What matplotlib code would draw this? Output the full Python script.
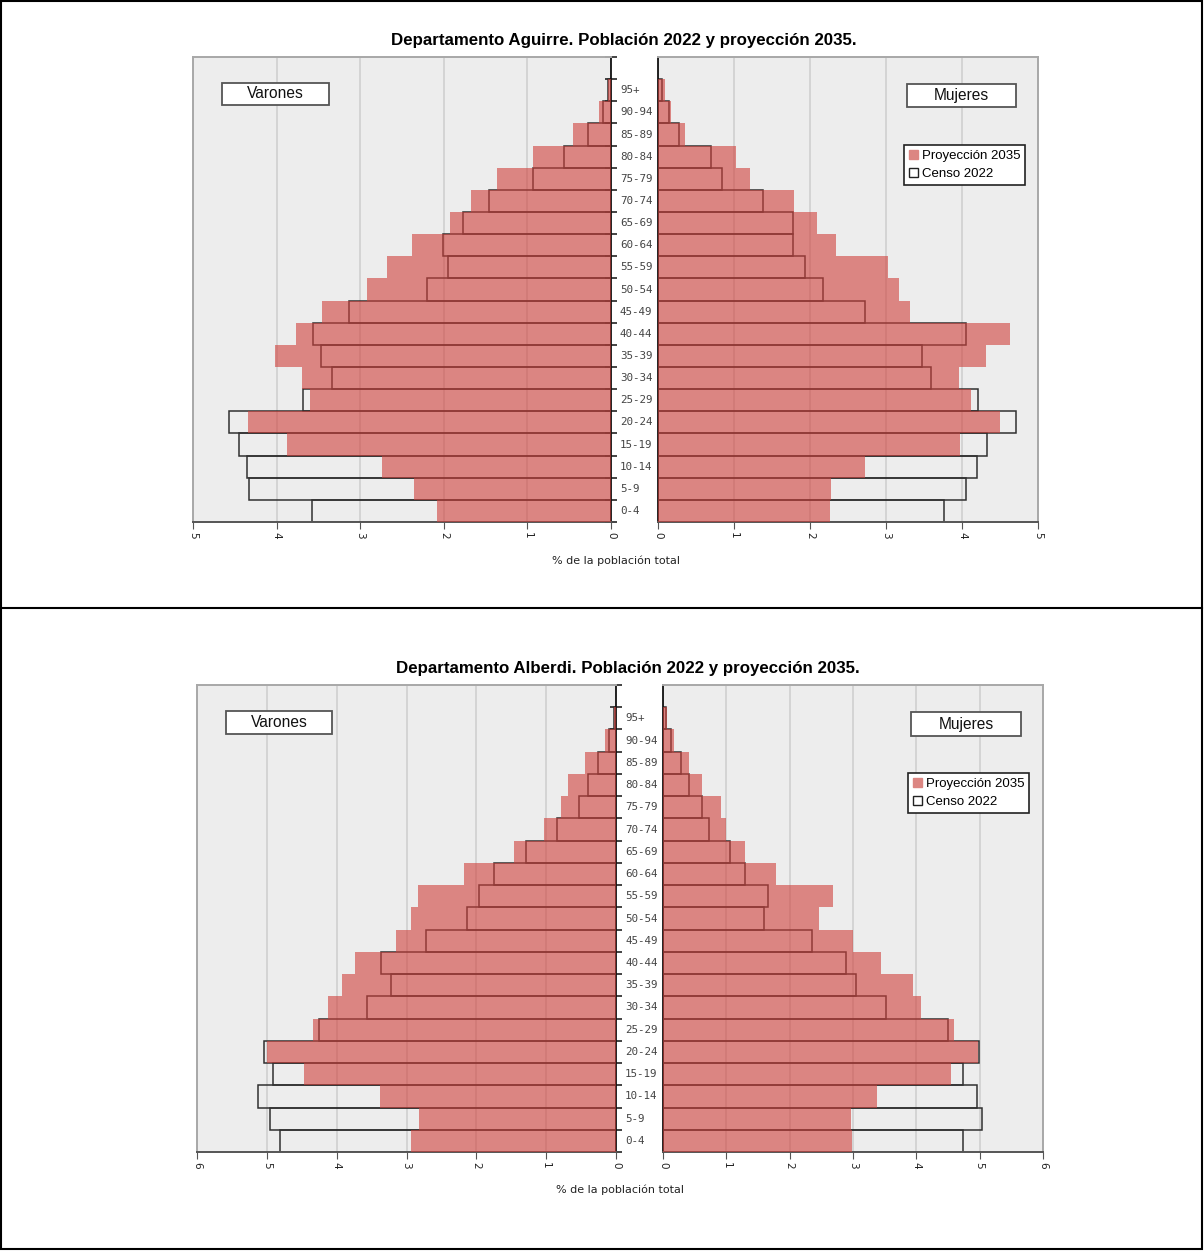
import matplotlib
matplotlib.use("Agg")
import matplotlib.pyplot as plt
from matplotlib.patches import Patch, Rectangle
from matplotlib.lines import Line2D
import matplotlib.transforms as mtransforms

# grupos de edad, de abajo hacia arriba
ages = ['0-4', '5-9', '10-14', '15-19', '20-24', '25-29', '30-34', '35-39', '40-44',
        '45-49', '50-54', '55-59', '60-64', '65-69', '70-74', '75-79', '80-84',
        '85-89', '90-94', '95+']

# Departamento Aguirre (% de la poblacion total)
aguirre_v_2022 = [3.58, 4.33, 4.36, 4.45, 4.57, 3.68, 3.34, 3.47, 3.56, 3.13,
                  2.20, 1.95, 2.01, 1.77, 1.46, 0.93, 0.56, 0.28, 0.09, 0.03]
aguirre_v_2035 = [2.08, 2.36, 2.74, 3.88, 4.34, 3.60, 3.70, 4.02, 3.77, 3.46,
                  2.92, 2.68, 2.38, 1.93, 1.67, 1.36, 0.93, 0.45, 0.14, 0.03]
aguirre_m_2022 = [3.76, 4.05, 4.20, 4.33, 4.71, 4.21, 3.59, 3.47, 4.05, 2.72,
                  2.17, 1.94, 1.78, 1.77, 1.38, 0.84, 0.70, 0.27, 0.15, 0.05]
aguirre_m_2035 = [2.26, 2.28, 2.72, 3.97, 4.50, 4.12, 3.96, 4.31, 4.63, 3.31,
                  3.17, 3.03, 2.34, 2.09, 1.79, 1.21, 1.03, 0.36, 0.17, 0.09]

# Departamento Alberdi
alberdi_v_2022 = [4.81, 4.95, 5.13, 4.91, 5.04, 4.26, 3.57, 3.22, 3.37, 2.72,
                  2.14, 1.96, 1.75, 1.29, 0.84, 0.53, 0.40, 0.26, 0.10, 0.03]
alberdi_v_2035 = [2.94, 2.82, 3.38, 4.47, 5.00, 4.34, 4.12, 3.93, 3.74, 3.15,
                  2.94, 2.84, 2.18, 1.46, 1.03, 0.79, 0.69, 0.44, 0.16, 0.03]
alberdi_m_2022 = [4.74, 5.03, 4.96, 4.74, 4.99, 4.50, 3.52, 3.05, 2.89, 2.36,
                  1.60, 1.66, 1.30, 1.05, 0.73, 0.62, 0.41, 0.28, 0.13, 0.04]
alberdi_m_2035 = [2.99, 2.97, 3.38, 4.54, 4.98, 4.59, 4.07, 3.95, 3.44, 3.00,
                  2.46, 2.69, 1.78, 1.29, 1.00, 0.92, 0.62, 0.41, 0.17, 0.06]

W, H = 1204, 1251
fig = plt.figure(figsize=(W / 100, H / 100), dpi=100)

BG = '#ededed'
RED = (0.815, 0.25, 0.23)
FRAME = '#a8a8a8'


def fx(x):
    return x / W


def fy(y):
    return 1 - y / H


def px_axes(x0, y0, x1, y1):
    return fig.add_axes([fx(x0), fy(y1), fx(x1 - x0), (y1 - y0) / H])


def box_label(x0, y0, x1, y1, txt):
    fig.add_artist(Rectangle((fx(x0), fy(y1)), fx(x1 - x0), (y1 - y0) / H,
                             transform=fig.transFigure, fc='white', ec='#555555', lw=1.3))
    fig.text(fx((x0 + x1) / 2), fy((y0 + y1) / 2), txt, ha='center', va='center',
             fontsize=11.2, family='Liberation Sans', color='#111111')


def pyramid(title, v22, v35, m22, m35, xmax, L, R, ty, lab_x, lab_y, boxes, leg):
    y = list(range(len(ages)))
    axL = px_axes(*L)
    axR = px_axes(*R)
    for ax, c22, c35 in [(axL, v22, v35), (axR, m22, m35)]:
        ax.set_facecolor(BG)
        ax.barh(y, c22, height=1.0, fc='none', ec='#303030', lw=1.1, zorder=2)
        ax.barh(y, c35, height=1.0, color=RED, alpha=0.6, lw=0, zorder=3)
        ax.set_xlim(0, xmax)
        ax.set_ylim(-0.5, len(ages) + 0.5)
        ax.set_xticks(range(xmax + 1))
        ax.set_xticklabels([str(i) for i in range(xmax + 1)], rotation=270,
                           fontsize=7.5, family='DejaVu Sans', color='#222222')
        ax.tick_params(axis='x', direction='out', length=5, color='#555555', pad=2)
        ax.grid(axis='x', color='#cfcfcf', lw=1.2, zorder=1)
        ax.set_axisbelow(True)
        for s in ax.spines.values():
            s.set_color(FRAME)
            s.set_linewidth(1.4)
        ax.spines['bottom'].set_color('#555555')
    axL.invert_xaxis()
    # eje central
    axL.spines['right'].set_color('#111111')
    axL.spines['right'].set_linewidth(1.3)
    axL.yaxis.tick_right()
    axL.set_yticks([i - 0.5 for i in range(len(ages) + 2)])
    axL.set_yticklabels([])
    axL.tick_params(axis='y', direction='inout', length=9, color='#111111', width=1.1)
    axR.spines['left'].set_color('#111111')
    axR.spines['left'].set_linewidth(1.3)
    axR.set_yticks([])

    tr = mtransforms.blended_transform_factory(fig.transFigure, axL.transData)
    for i, a in enumerate(ages):
        fig.text(fx(lab_x), i, a, transform=tr, ha='left', va='center',
                 fontsize=7.8, family='DejaVu Sans Mono', color='#444444')

    cx = (L[0] + R[2]) / 2
    fig.text(fx(cx + 8), fy(ty), title, ha='center', va='center', fontsize=12.2,
             fontweight='bold', family='Liberation Sans')
    fig.text(fx(cx), fy(lab_y), '% de la población total', ha='center', va='center',
             fontsize=8, family='DejaVu Sans', color='#222222')

    box_label(*boxes[0], 'Varones')
    box_label(*boxes[1], 'Mujeres')

    handles = [Patch(fc='#dc8682', ec='#dc8682'),
               Patch(fc='white', ec='#222222', lw=1.0)]
    lg = fig.legend(handles, ['Proyección 2035', 'Censo 2022'],
                    loc='upper left', bbox_to_anchor=(fx(leg[0]), fy(leg[1])),
                    prop={'family': 'Liberation Sans', 'size': 9.5},
                    fancybox=False, frameon=True, edgecolor='#222222', framealpha=1,
                    borderpad=0.35, labelspacing=0.45, handlelength=0.7,
                    handleheight=0.7, handletextpad=0.3, borderaxespad=0)
    lg.get_frame().set_linewidth(1.2)


pyramid('Departamento Aguirre. Población 2022 y proyección 2035.',
        aguirre_v_2022, aguirre_v_2035, aguirre_m_2022, aguirre_m_2035, 5,
        (193, 57, 611, 522), (658, 57, 1038, 522), 40, 620, 561,
        [(222, 83, 329, 105), (907, 84, 1016, 107)], (904, 145))

pyramid('Departamento Alberdi. Población 2022 y proyección 2035.',
        alberdi_v_2022, alberdi_v_2035, alberdi_m_2022, alberdi_m_2035, 6,
        (197, 685, 616, 1152), (663, 685, 1043, 1152), 668, 625, 1190,
        [(226, 711, 332, 734), (911, 712, 1021, 736)], (908, 773))

# marcos de la hoja
fig.add_artist(Rectangle((fx(1), fy(1249)), fx(1201), 1248 / H, transform=fig.transFigure,
                         fc='none', ec='black', lw=1.5))
fig.add_artist(Line2D([fx(1), fx(1202)], [fy(608), fy(608)], transform=fig.transFigure,
                      color='black', lw=1.5))

fig.savefig('out.png', dpi=100, facecolor='white')
